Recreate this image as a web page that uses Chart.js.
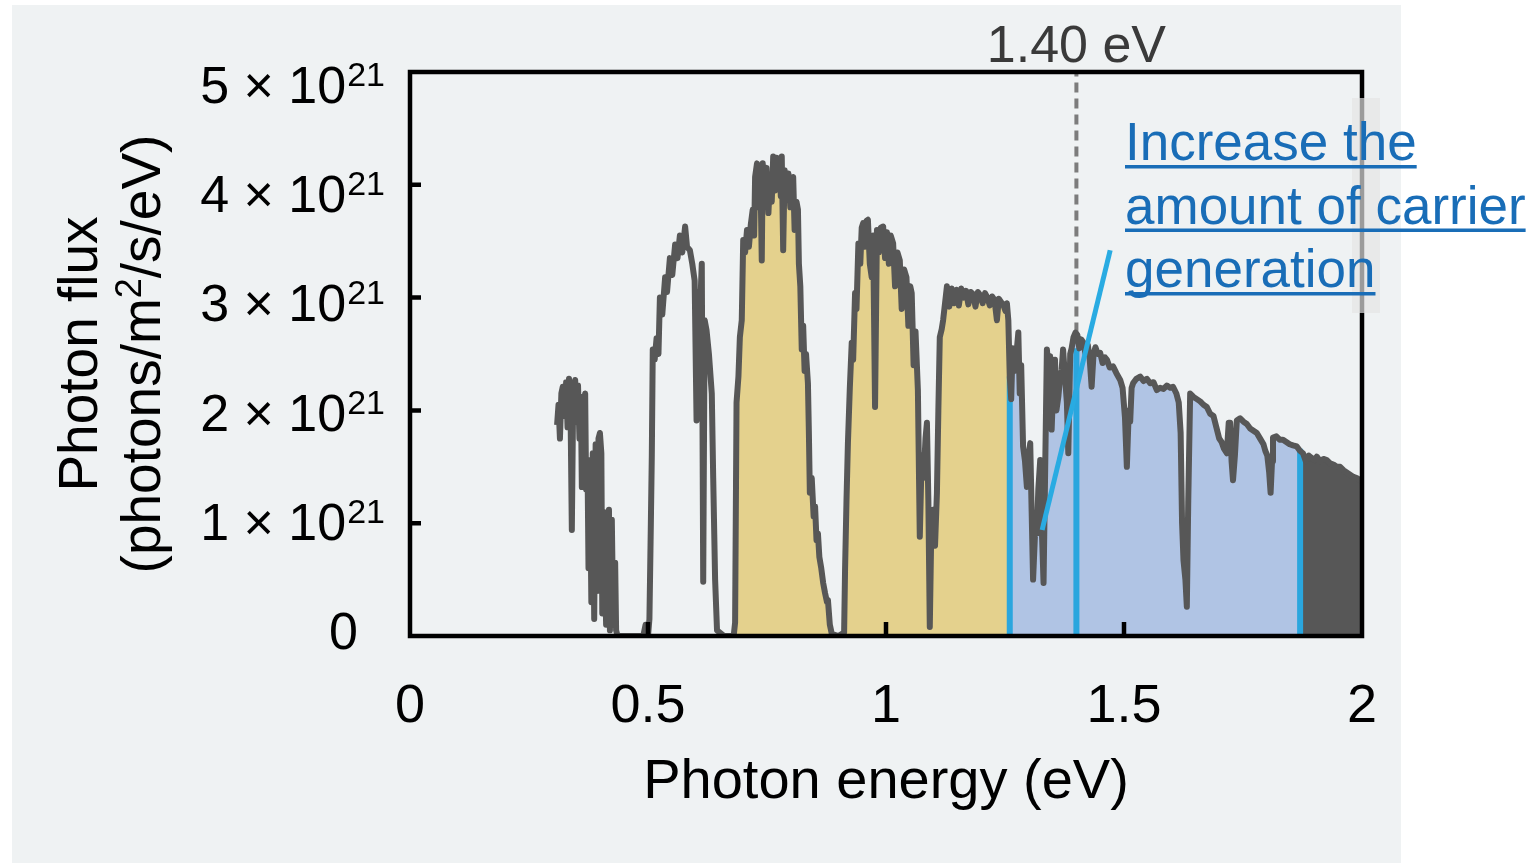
<!DOCTYPE html>
<html>
<head>
<meta charset="utf-8">
<title>Photon flux spectrum</title>
<script src="https://cdn.jsdelivr.net/npm/chart.js@4.4.1/dist/chart.umd.min.js"></script>
<style>
  html, body { margin: 0; padding: 0; background: #ffffff; }
  canvas { display: block; }
</style>
</head>
<body>
<canvas id="spectrum" width="1537" height="865"></canvas>
<script>
// photon energy (eV)
const energy = [
  0.309, 0.312, 0.315, 0.318, 0.321, 0.325, 0.328, 0.331, 0.334, 0.337,
  0.340, 0.343, 0.347, 0.350, 0.353, 0.356, 0.359, 0.361, 0.365, 0.368,
  0.370, 0.373, 0.375, 0.378, 0.381, 0.384, 0.387, 0.390, 0.393, 0.396,
  0.399, 0.402, 0.404, 0.407, 0.409, 0.412, 0.415, 0.418, 0.420, 0.424,
  0.427, 0.431, 0.433, 0.436, 0.460, 0.490, 0.495, 0.500, 0.503, 0.506,
  0.508, 0.510, 0.514, 0.518, 0.522, 0.525, 0.530, 0.536, 0.540, 0.546,
  0.551, 0.557, 0.562, 0.567, 0.572, 0.578, 0.582, 0.588, 0.593, 0.598,
  0.602, 0.605, 0.610, 0.613, 0.616, 0.619, 0.623, 0.628, 0.634, 0.637,
  0.641, 0.645, 0.660, 0.680,
  0.683, 0.686, 0.690, 0.693, 0.697, 0.700, 0.704, 0.708, 0.712, 0.716,
  0.720, 0.723, 0.725, 0.729, 0.733, 0.736, 0.739, 0.741, 0.745, 0.749,
  0.753, 0.756, 0.760, 0.763, 0.767, 0.770, 0.772, 0.776, 0.779, 0.781,
  0.784, 0.787, 0.791, 0.795, 0.799, 0.802, 0.805, 0.808, 0.812, 0.815,
  0.817, 0.820, 0.823, 0.826, 0.829, 0.832, 0.836, 0.838, 0.840, 0.844,
  0.848, 0.851, 0.854, 0.857, 0.860, 0.864, 0.868, 0.872, 0.876, 0.878,
  0.882, 0.886, 0.900, 0.912,
  0.914, 0.917, 0.920, 0.924, 0.928, 0.931, 0.935, 0.938, 0.942, 0.946,
  0.949, 0.952, 0.956, 0.959, 0.962, 0.966, 0.970, 0.973, 0.977, 0.981,
  0.985, 0.989, 0.994, 0.998, 1.002, 1.006, 1.010, 1.015, 1.019, 1.024,
  1.029, 1.033, 1.038, 1.043, 1.047, 1.051, 1.054, 1.058, 1.062, 1.067,
  1.071, 1.075, 1.079, 1.083, 1.086, 1.089, 1.092, 1.095, 1.099, 1.103,
  1.107, 1.110, 1.113, 1.117, 1.120, 1.124, 1.128, 1.133, 1.138, 1.143,
  1.148, 1.153, 1.158, 1.163, 1.168, 1.173, 1.178, 1.183, 1.188, 1.193,
  1.198, 1.203, 1.208, 1.213, 1.218, 1.223, 1.228, 1.233, 1.237, 1.242,
  1.247, 1.251, 1.254, 1.257, 1.260,
  1.263, 1.266, 1.270, 1.274, 1.278, 1.281, 1.284, 1.288, 1.292, 1.296,
  1.300, 1.303, 1.306, 1.309, 1.313, 1.317, 1.320, 1.324, 1.327, 1.331,
  1.334, 1.338, 1.341, 1.345, 1.348, 1.352, 1.355, 1.358, 1.362, 1.366,
  1.369, 1.372, 1.376, 1.380, 1.383, 1.387, 1.390, 1.394, 1.398, 1.402,
  1.406, 1.410, 1.415, 1.419, 1.424, 1.428, 1.432, 1.436, 1.440, 1.445,
  1.450, 1.455, 1.460, 1.464, 1.470, 1.477, 1.484, 1.492, 1.497, 1.502,
  1.506, 1.510, 1.513, 1.516, 1.519, 1.526, 1.534, 1.541, 1.548, 1.555,
  1.562, 1.569, 1.576, 1.583, 1.590, 1.597, 1.603, 1.610, 1.615, 1.619,
  1.622, 1.625, 1.629, 1.632, 1.635, 1.639, 1.646, 1.653, 1.660, 1.667,
  1.674, 1.681, 1.688, 1.694, 1.700, 1.705, 1.710, 1.716, 1.720, 1.723,
  1.726, 1.729, 1.733, 1.737, 1.744, 1.751, 1.758, 1.765, 1.772, 1.779,
  1.786, 1.793, 1.797, 1.801, 1.805, 1.808, 1.811, 1.813, 1.820, 1.827,
  1.834, 1.841, 1.848, 1.855, 1.863, 1.870, 1.876, 1.882, 1.888, 1.894,
  1.900, 1.905, 1.912, 1.919, 1.926, 1.933, 1.940, 1.947, 1.954, 1.961,
  1.968, 1.975, 1.982, 1.989, 1.996, 2.000
];

// photon flux (10^21 photons/m2/s/eV)
const flux = [
  1.87, 2.05, 1.75, 2.15, 2.21, 1.95, 2.25, 1.85, 2.28, 2.10,
  0.94, 2.20, 2.27, 1.90, 2.22, 1.75, 2.12, 1.32, 2.05, 2.15,
  1.30, 1.50, 0.60, 1.56, 0.30, 1.62, 0.15, 1.70, 0.40, 1.75,
  1.80, 1.62, 0.20, 1.10, 0.76, 0.10, 0.85, 1.12, 0.05, 1.03,
  0.10, 0.65, 0.05, 0.00, 0.00, 0.00, 0.10, 0.00, 0.15, 1.00,
  1.60, 2.54, 2.45, 2.64, 2.50, 3.00, 2.85, 3.18, 3.05, 3.35,
  3.20, 3.47, 3.35, 3.55, 3.40, 3.63, 3.45, 3.42, 3.30, 3.15,
  1.91, 3.05, 2.95, 3.30, 0.48, 2.80, 2.71, 2.50, 2.15, 1.40,
  0.50, 0.05, 0.00, 0.00,
  0.12, 2.07, 2.30, 2.65, 2.80, 3.51, 3.40, 3.60, 3.45, 3.65,
  3.78, 3.55, 4.07, 4.19, 3.80, 4.15, 3.33, 4.19, 3.90, 4.15,
  3.75, 4.02, 3.85, 4.25, 3.95, 4.24, 4.00, 4.20, 3.90, 4.25,
  3.42, 4.13, 3.90, 4.10, 3.80, 3.98, 4.07, 3.60, 3.85, 3.78,
  3.30, 3.10, 2.54, 2.75, 2.35, 2.50, 2.24, 1.80, 1.27, 1.40,
  1.06, 1.15, 0.85, 0.91, 0.70, 0.60, 0.47, 0.38, 0.30, 0.32,
  0.10, 0.02, 0.00, 0.03,
  0.59, 1.20, 1.71, 2.20, 2.60, 2.45, 3.04, 2.90, 3.48, 3.30,
  3.62, 3.66, 3.45, 3.68, 3.69, 3.30, 3.18, 3.55, 2.03, 3.60,
  3.40, 3.62, 3.63, 3.35, 3.58, 3.30, 3.55, 3.48, 3.10, 3.40,
  3.33, 2.90, 3.25, 3.18, 2.75, 3.10, 3.04, 2.40, 2.70, 2.18,
  0.88, 1.60, 1.40, 1.75, 1.89, 1.20, 0.08, 0.90, 1.12, 0.80,
  1.27, 2.00, 2.65, 2.72, 2.80, 2.95, 3.10, 2.92, 3.08, 2.95,
  3.07, 2.93, 3.08, 3.00, 3.06, 2.94, 3.05, 3.03, 2.92, 3.05,
  3.02, 2.95, 3.04, 3.00, 2.93, 3.01, 2.98, 2.80, 2.99, 2.96,
  2.93, 2.88, 2.95, 2.80, 2.30,
  2.10, 2.55, 2.35, 2.50, 2.69, 2.15, 2.40, 1.68, 1.55, 1.32,
  1.60, 1.71, 1.10, 0.50, 0.90, 0.91, 1.30, 1.56, 1.00, 0.47,
  1.36, 2.54, 2.40, 2.48, 1.83, 2.30, 2.45, 2.00, 2.12, 2.30,
  2.36, 2.54, 2.30, 2.07, 1.62, 2.50, 2.55, 2.65, 2.69, 2.67,
  2.55, 2.63, 2.60, 2.50, 2.58, 2.45, 2.21, 2.50, 2.56, 2.50,
  2.51, 2.42, 2.47, 2.45, 2.38, 2.39, 2.33, 2.27, 2.20, 1.94,
  1.50, 2.00, 1.90, 2.20, 2.24, 2.28, 2.30, 2.26, 2.28, 2.24,
  2.25, 2.18, 2.20, 2.19, 2.22, 2.20, 2.21, 2.15, 2.07, 1.80,
  1.00, 0.67, 0.50, 0.26, 1.20, 2.15, 2.12, 2.10, 2.08, 2.05,
  2.03, 1.97, 1.95, 1.85, 1.75, 1.72, 1.66, 1.62, 1.89, 1.89,
  1.55, 1.38, 1.60, 1.91, 1.93, 1.90, 1.88, 1.84, 1.82, 1.80,
  1.75, 1.70, 1.64, 1.60, 1.45, 1.27, 1.55, 1.76, 1.77, 1.74,
  1.74, 1.72, 1.70, 1.69, 1.68, 1.64, 1.62, 1.55, 1.60, 1.58,
  1.56, 1.59, 1.55, 1.57, 1.56, 1.53, 1.52, 1.50, 1.50, 1.47,
  1.45, 1.43, 1.41, 1.40, 1.38, 1.38
];

const xTicks = [0, 0.5, 1, 1.5, 2];
const xTickLabels = ["0", "0.5", "1", "1.5", "2"];
const yTicks = [0, 1, 2, 3, 4, 5];
const yExponent = "21";

// shaded ranges under the curve (eV)
const yellowBand = [0.68, 1.26];
const blueBand = [1.26, 1.87];
const darkBand = [1.87, 2.0];

// vertical markers at the band edges
const markerEnergy = [1.26, 1.40, 1.87];
const markerTop = [2.30, 2.55, 1.66];

// 1.40 eV guide
const gapEnergy = 1.40;
const gapLineBottom = 2.69;
const gapLabel = "1.40 eV";

// leader line for the note
const leaderX = [1.328, 1.471];
const leaderY = [0.94, 3.42];
const noteLines = ["Increase the", "amount of carrier", "generation"];

const FAMILY = '"Liberation Sans", Arial, Helvetica, sans-serif';
function font(size) {
    return size + "px " + FAMILY;
}

function pointsBetween(from, to) {
    const out = [];
    energy.forEach(function(e, i) {
        if (e >= from && e <= to) out.push({ x: e, y: flux[i] });
    });
    return out;
}

function bandDataset(range, color) {
    return {
        data: pointsBetween(range[0], range[1]),
        borderWidth: 0,
        pointRadius: 0,
        backgroundColor: color,
        fill: "origin",
        order: 4
    };
}

const datasets = [];

datasets.push({
    data: energy.map(function(e, i) { return { x: e, y: flux[i] }; }),
    borderColor: "#575757",
    borderWidth: 6,
    borderJoinStyle: "round",
    pointRadius: 0,
    fill: false,
    order: 1
});

datasets.push(bandDataset(yellowBand, "#e4d18d"));
datasets.push(bandDataset(blueBand, "#b0c4e4"));
datasets.push(bandDataset(darkBand, "#575757"));

markerEnergy.forEach(function(e, i) {
    datasets.push({
        data: [{ x: e, y: 0 }, { x: e, y: markerTop[i] }],
        borderColor: "#2aa6de",
        borderWidth: 6,
        pointRadius: 0,
        fill: false,
        order: 2
    });
});

datasets.push({
    data: [{ x: gapEnergy, y: gapLineBottom }, { x: gapEnergy, y: 5 }],
    borderColor: "#7c7c7c",
    borderWidth: 4,
    borderDash: [10, 6],
    pointRadius: 0,
    fill: false,
    order: 2
});

datasets.push({
    data: [{ x: leaderX[0], y: leaderY[0] }, { x: leaderX[1], y: leaderY[1] }],
    borderColor: "#29abe2",
    borderWidth: 5,
    pointRadius: 0,
    fill: false,
    order: 0
});

// frame, inside ticks, labels and the note
const decorations = {
    id: "decorations",
    beforeDraw: function(chart) {
        const ctx = chart.ctx;
        ctx.save();
        ctx.fillStyle = "#eff2f3";
        ctx.fillRect(12, 5, 1389, 858);
        ctx.restore();
    },
    afterDraw: function(chart) {
        const ctx = chart.ctx;
        const area = chart.chartArea;
        const xs = chart.scales.x;
        const ys = chart.scales.y;
        ctx.save();

        ctx.strokeStyle = "#000";
        ctx.lineWidth = 4.5;
        ctx.strokeRect(area.left, area.top, area.right - area.left, area.bottom - area.top);

        ctx.beginPath();
        xTicks.forEach(function(v) {
            const px = xs.getPixelForValue(v);
            if (px <= area.left + 2 || px >= area.right - 2) return;
            ctx.moveTo(px, area.bottom);
            ctx.lineTo(px, area.bottom - 14);
        });
        yTicks.forEach(function(v) {
            const py = ys.getPixelForValue(v);
            if (py <= area.top + 2 || py >= area.bottom - 2) return;
            ctx.moveTo(area.left, py);
            ctx.lineTo(area.left + 11, py);
        });
        ctx.stroke();

        ctx.fillStyle = "#000";
        ctx.textBaseline = "alphabetic";

        // x tick labels
        ctx.font = font(54);
        ctx.textAlign = "center";
        xTicks.forEach(function(v, i) {
            ctx.fillText(xTickLabels[i], xs.getPixelForValue(v), area.bottom + 86);
        });

        // y tick labels, n × 10^21
        yTicks.forEach(function(v) {
            const base = ys.getPixelForValue(v) + 13 + v * 3.6;
            ctx.textAlign = "right";
            if (v === 0) {
                ctx.font = font(52);
                ctx.fillText("0", area.left - 52, base);
                return;
            }
            const right = area.left - 25;
            ctx.font = font(34);
            const supW = ctx.measureText(yExponent).width;
            ctx.fillText(yExponent, right, base - 17);
            ctx.font = font(52);
            ctx.fillText(v + " \u00d7 10", right - supW - 1, base);
        });

        // x axis title
        ctx.textAlign = "center";
        ctx.font = font(56);
        ctx.fillText("Photon energy (eV)", (area.left + area.right) / 2, area.bottom + 162);

        // y axis title, two rotated lines
        const midY = (area.top + area.bottom) / 2;
        ctx.save();
        ctx.translate(area.left - 313, midY);
        ctx.rotate(-Math.PI / 2);
        ctx.font = font(55);
        ctx.textAlign = "center";
        ctx.fillText("Photon flux", 0, 0);
        ctx.restore();

        ctx.save();
        ctx.translate(area.left - 250, midY);
        ctx.rotate(-Math.PI / 2);
        ctx.textAlign = "left";
        ctx.font = font(55);
        const partA = "(photons/m";
        const partB = "/s/eV)";
        const wA = ctx.measureText(partA).width;
        const wB = ctx.measureText(partB).width;
        ctx.font = font(36);
        const wSup = ctx.measureText("2").width;
        let x = -(wA + wSup + wB) / 2;
        ctx.font = font(55);
        ctx.fillText(partA, x, 0);
        x += wA;
        ctx.font = font(36);
        ctx.fillText("2", x, -19);
        x += wSup;
        ctx.font = font(55);
        ctx.fillText(partB, x, 0);
        ctx.restore();

        // label above the dashed guide
        ctx.fillStyle = "#3a3a3a";
        ctx.font = font(52);
        ctx.textAlign = "center";
        ctx.fillText(gapLabel, xs.getPixelForValue(gapEnergy), area.top - 10);

        // faint strip across the right edge of the frame
        ctx.fillStyle = "rgba(228, 228, 228, 0.68)";
        ctx.fillRect(area.right - 10, 98, 28, 215);

        // underlined note
        ctx.fillStyle = "#196db7";
        ctx.font = font(53);
        ctx.textAlign = "left";
        const noteX = xs.getPixelForValue(1.5) + 1;
        noteLines.forEach(function(line, i) {
            const base = area.top + 88 + i * 63.5;
            ctx.fillText(line, noteX, base);
            const w = ctx.measureText(line).width;
            ctx.fillRect(noteX, base + 5, w, 3.5);
        });

        ctx.restore();
    }
};

document.addEventListener("DOMContentLoaded", function() {
    const ctx = document.getElementById("spectrum").getContext("2d");
    new Chart(ctx, {
        type: "line",
        data: { datasets: datasets },
        options: {
            responsive: false,
            devicePixelRatio: 1,
            animation: false,
            layout: {
                padding: { left: 410, right: 175, top: 72, bottom: 229 }
            },
            scales: {
                x: { type: "linear", min: 0, max: 2, display: false },
                y: { type: "linear", min: 0, max: 5, display: false }
            },
            plugins: {
                legend: { display: false },
                tooltip: { enabled: false }
            }
        },
        plugins: [decorations]
    });
});
</script>
</body>
</html>
